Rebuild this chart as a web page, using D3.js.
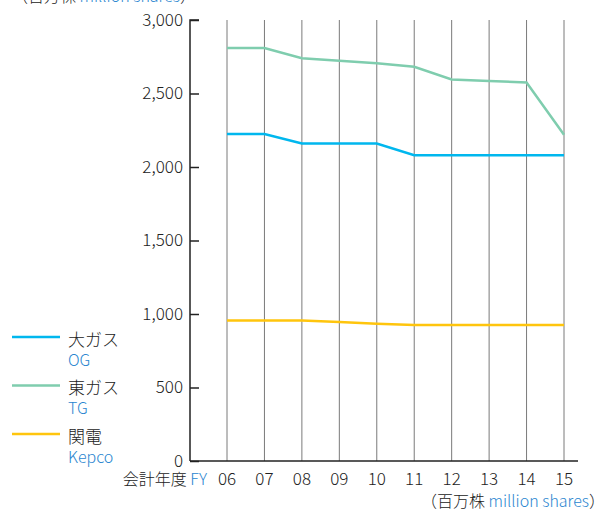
<!DOCTYPE html>
<html>
<head>
<meta charset="utf-8">
<script src="https://cdn.jsdelivr.net/npm/d3@7"></script>
<style>
    body { margin: 0; background: #fff; }
    svg { display: block; font-family: "Noto Sans CJK JP", "Noto Sans", sans-serif; font-weight: 300; }
</style>
</head>
<body>
<div id="chart"></div>
<script>
const years = ["06", "07", "08", "09", "10", "11", "12", "13", "14", "15"];
const ogValues = [2225, 2225, 2160, 2160, 2160, 2080, 2080, 2080, 2080, 2080];
const tgValues = [2810, 2810, 2740, 2722, 2705, 2682, 2595, 2585, 2575, 2220];
const kepcoValues = [955, 955, 955, 946, 933, 925, 925, 925, 925, 925];
const yTicks = [0, 500, 1000, 1500, 2000, 2500, 3000];

const series = [
    { jp: "大ガス", en: "OG", values: ogValues, color: "#00b7ee" },
    { jp: "東ガス", en: "TG", values: tgValues, color: "#7fcdae" },
    { jp: "関電", en: "Kepco", values: kepcoValues, color: "#ffc50d" }
];

const width = 607, height = 511;
const blue = "#2a86d0";

const svg = d3.select("#chart").append("svg")
    .attr("width", width)
    .attr("height", height);

const x = d3.scalePoint().domain(years).range([227, 564]);
const y = d3.scaleLinear().domain([0, 3000]).range([461, 20]);

// vertical grid lines
svg.append("g")
    .selectAll("line")
    .data(years)
    .join("line")
    .attr("x1", d => x(d))
    .attr("x2", d => x(d))
    .attr("y1", y(3000))
    .attr("y2", y(0))
    .attr("stroke", "#7a7a7a")
    .attr("stroke-width", 1);

// y axis, ticks pointing inward
const yAxis = svg.append("g")
    .attr("transform", "translate(190,0)")
    .call(d3.axisRight(y).tickValues(yTicks).tickSize(9).tickFormat(""));
yAxis.select(".domain").attr("d", `M9,${y(3000)}H0V${y(0)}`).attr("stroke", "#222").attr("stroke-width", 1.5);
yAxis.selectAll(".tick line").attr("stroke", "#222").attr("stroke-width", 1.5);

svg.append("g")
    .selectAll("text")
    .data(yTicks)
    .join("text")
    .attr("x", 183)
    .attr("y", d => y(d))
    .attr("dy", "0.35em")
    .attr("text-anchor", "end")
    .attr("font-size", 17)
    .attr("fill", "#222")
    .text(d => d3.format(",")(d));

// x axis line
svg.append("line")
    .attr("x1", 190).attr("x2", 578)
    .attr("y1", y(0)).attr("y2", y(0))
    .attr("stroke", "#222").attr("stroke-width", 1.5);

svg.append("g")
    .selectAll("text")
    .data(years)
    .join("text")
    .attr("x", d => x(d))
    .attr("y", 479)
    .attr("dy", "0.35em")
    .attr("text-anchor", "middle")
    .attr("font-size", 17)
    .attr("fill", "#222")
    .text(d => d);

const fy = svg.append("text")
    .attr("x", 207).attr("y", 479).attr("dy", "0.35em")
    .attr("text-anchor", "end")
    .attr("font-size", 16);
fy.append("tspan").attr("fill", "#222").text("会計年度 ");
fy.append("tspan").attr("fill", blue).text("FY");

// unit labels
const unitBottom = svg.append("text")
    .attr("x", 605).attr("y", 501).attr("dy", "0.35em")
    .attr("text-anchor", "end")
    .attr("font-size", 16);
unitBottom.append("tspan").attr("fill", "#222").text("（百万株 ");
unitBottom.append("tspan").attr("fill", blue).text("million shares");
unitBottom.append("tspan").attr("fill", "#222").text("）");

const unitTop = svg.append("text")
    .attr("x", 196).attr("y", 2)
    .attr("text-anchor", "end")
    .attr("font-size", 16);
unitTop.append("tspan").attr("fill", "#222").text("（百万株 ");
unitTop.append("tspan").attr("fill", blue).text("million shares");
unitTop.append("tspan").attr("fill", "#222").text("）");

// series lines
const line = d3.line()
    .x((d, i) => x(years[i]))
    .y(d => y(d));

svg.append("g")
    .selectAll("path")
    .data(series)
    .join("path")
    .attr("d", d => line(d.values))
    .attr("fill", "none")
    .attr("stroke", d => d.color)
    .attr("stroke-width", 2.5);

// legend
const legend = svg.append("g")
    .selectAll("g")
    .data(series)
    .join("g")
    .attr("transform", (d, i) => `translate(0,${337 + i * 48.5})`);

legend.append("line")
    .attr("x1", 12).attr("x2", 60)
    .attr("stroke", d => d.color)
    .attr("stroke-width", 2.5);

legend.append("text")
    .attr("x", 68).attr("y", 3)
    .attr("dy", "0.35em")
    .attr("font-size", 17)
    .attr("fill", "#222")
    .text(d => d.jp);

legend.append("text")
    .attr("x", 68).attr("y", 23)
    .attr("dy", "0.35em")
    .attr("font-size", 16)
    .attr("fill", blue)
    .text(d => d.en);
</script>
</body>
</html>
